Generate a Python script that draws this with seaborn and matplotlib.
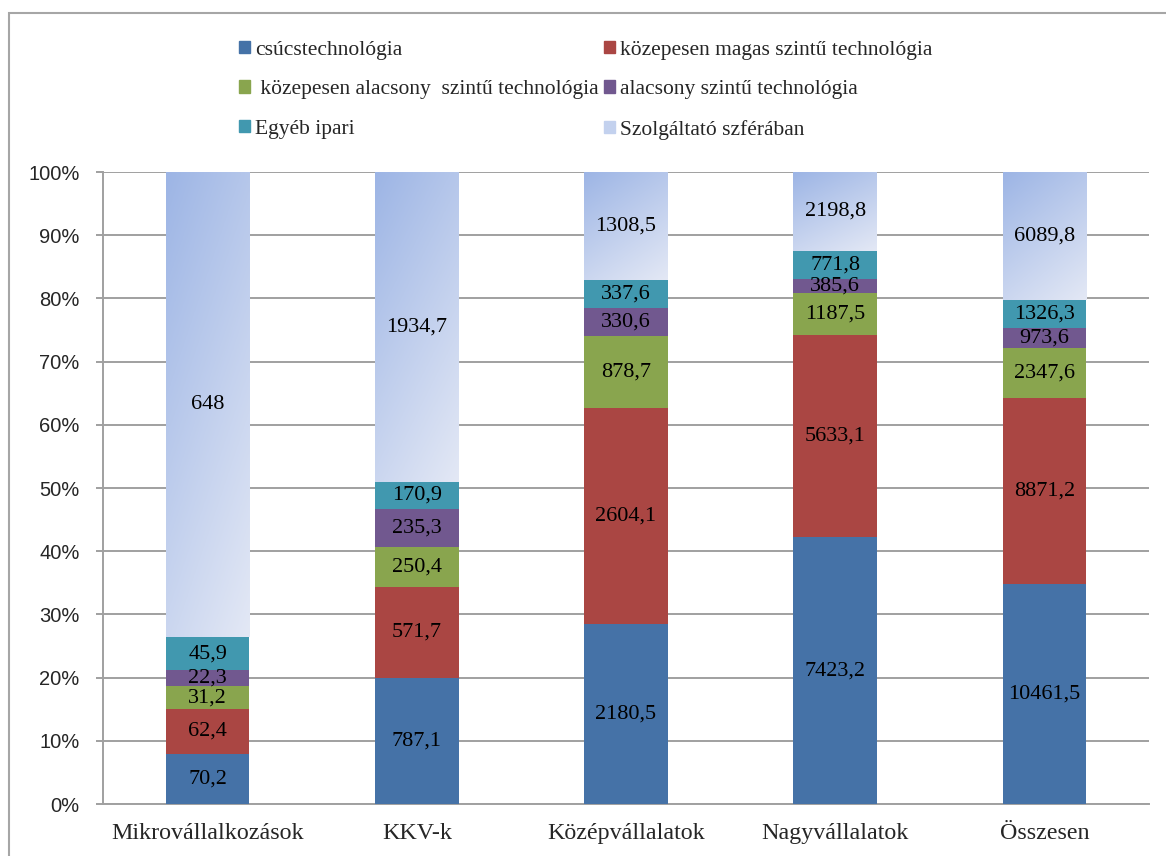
import numpy as np
import pandas as pd
import matplotlib
matplotlib.use("Agg")
import matplotlib.pyplot as plt
import matplotlib.patches as mpatches
import seaborn as sns

categories = ["Mikrovállalkozások", "KKV-k", "Középvállalatok", "Nagyvállalatok", "Összesen"]
series_names = ["csúcstechnológia", "közepesen magas szintű technológia",
                " közepesen alacsony  szintű technológia", "alacsony szintű technológia",
                "Egyéb ipari", "Szolgáltató szférában"]
csucs = [70.2, 787.1, 2180.5, 7423.2, 10461.5]
koz_magas = [62.4, 571.7, 2604.1, 5633.1, 8871.2]
koz_alacsony = [31.2, 250.4, 878.7, 1187.5, 2347.6]
alacsony = [22.3, 235.3, 330.6, 385.6, 973.6]
egyeb = [45.9, 170.9, 337.6, 771.8, 1326.3]
szolg = [648, 1934.7, 1308.5, 2198.8, 6089.8]
colors = ["#4572A7", "#AA4643", "#89A54E", "#71588F", "#4198AF", "#c3d1ee"]

series = [csucs, koz_magas, koz_alacsony, alacsony, egyeb, szolg]
vals = np.array(series, dtype=float)
pct = vals / vals.sum(axis=0) * 100

sns.set_style("white")
plt.rcParams["font.family"] = ["Liberation Serif", "DejaVu Serif"]

fig = plt.figure(figsize=(11.66, 8.56), dpi=100)
ax = fig.add_axes([103 / 1166, 1 - 804 / 856, (1149 - 103) / 1166, (804 - 172) / 856])

bottom = np.zeros(len(categories))
for i, name in enumerate(series_names):
    d = pd.DataFrame({"cat": categories, "pct": pct[i]})
    sns.barplot(data=d, x="cat", y="pct", bottom=bottom, color=colors[i],
                width=0.4, errorbar=None, saturation=1, linewidth=0, ax=ax, zorder=3)
    cont = ax.containers[-1]
    labels = [f"{v:g}".replace(".", ",") for v in series[i]]
    ax.bar_label(cont, labels=labels, label_type="center", fontsize=16,
                 color="black", zorder=5)
    bottom = bottom + pct[i]

# gradient fill for the service sector segments
cmap = matplotlib.colors.LinearSegmentedColormap.from_list("g", ["#9db5e5", "#e3e8f5"])
gx, gy = np.meshgrid(np.linspace(0, 1, 64), np.linspace(0, 1, 64))
grad = 0.35 * gx + 0.65 * gy
for p in ax.containers[-1].patches:
    x0, y0 = p.get_x(), p.get_y()
    w, h = p.get_width(), p.get_height()
    im = ax.imshow(grad, extent=(x0, x0 + w, y0, y0 + h), origin="upper",
                   cmap=cmap, aspect="auto", zorder=3.5, interpolation="bilinear")
    im.set_clip_path(p)
for t in ax.texts:
    t.set_zorder(6)

ax.set_xlim(-0.5, len(categories) - 0.5)
ax.set_ylim(0, 100)
ax.set_yticks(np.arange(0, 101, 10))
ax.set_yticklabels([f"{v}%" for v in range(0, 101, 10)], fontfamily="Liberation Sans",
                   fontsize=14.5)
ax.yaxis.grid(True, color="#a0a0a0", linewidth=1.4, zorder=0)
ax.set_axisbelow(True)
ax.set_xlabel("")
ax.set_ylabel("")
ax.set_xticks(range(len(categories)))
ax.set_xticklabels(categories, fontsize=17.3)
ax.set_xticks(np.arange(-0.5, len(categories)), minor=True)
ax.tick_params(axis="x", which="major", length=0, pad=14)
ax.tick_params(axis="x", which="minor", length=7, width=1.4, color="#a0a0a0")
ax.tick_params(axis="y", length=5, width=1.4, color="#a0a0a0", pad=12, left=True)
for s in ["top", "right"]:
    ax.spines[s].set_visible(False)
for s in ["left", "bottom"]:
    ax.spines[s].set_color("#a0a0a0")
    ax.spines[s].set_linewidth(1.4)

# legend: two columns, row order as in original
order = [0, 2, 4, 1, 3, 5]
handles = [mpatches.Patch(color=colors[i]) for i in order]
fig.legend(handles, [series_names[i] for i in order], ncol=2,
           loc="upper left", bbox_to_anchor=(228 / 1166, 1 - 30 / 856),
           frameon=False, fontsize=15.5, handlelength=0.5, handleheight=0.5,
           handletextpad=0.25, columnspacing=0.25, labelspacing=0.95, borderpad=0)

# outer chart border
fig.patches.append(mpatches.Rectangle((9 / 1166, -0.1), 1.2, 1.1 - 13 / 856,
                                      transform=fig.transFigure, fill=False,
                                      edgecolor="#a6a6a6", linewidth=1.5))

fig.savefig("out.png", dpi=100)
